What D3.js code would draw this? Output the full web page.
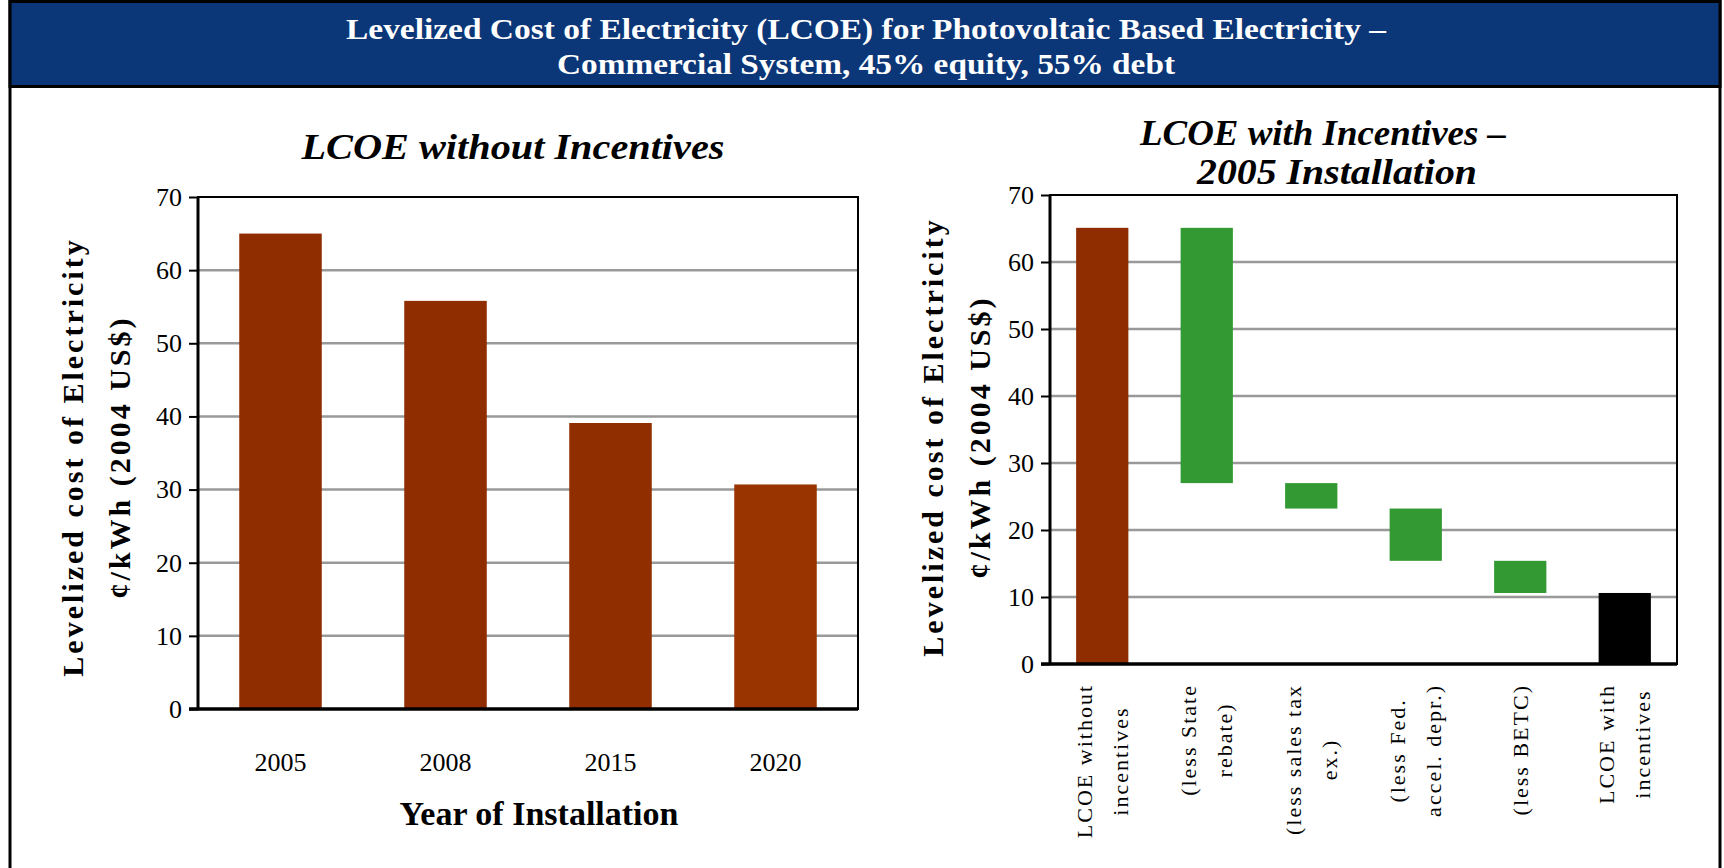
<!DOCTYPE html>
<html>
<head>
<meta charset="utf-8">
<script src="https://cdnjs.cloudflare.com/ajax/libs/d3/7.8.5/d3.min.js"></script>
<style>
  html, body { margin: 0; padding: 0; background: #fff; }
  svg { display: block; }
  text { font-family: "Liberation Serif", "Times New Roman", serif; }
</style>
</head>
<body>
<svg id="chart" width="1724" height="868"></svg>
<script>
// left chart: LCOE without incentives
var years = ["2005", "2008", "2015", "2020"];
var lcoeValues = [65.0, 55.8, 39.1, 30.7];

// right chart: waterfall, 2005 installation
var steps = ["LCOE without incentives", "(less State rebate)", "(less sales tax ex.)",
             "(less Fed. accel. depr.)", "(less BETC)", "LCOE with incentives"];
var stepLines = [["LCOE without", "incentives"], ["(less State", "rebate)"], ["(less sales tax", "ex.)"],
                 ["(less Fed.", "accel. depr.)"], ["(less BETC)"], ["LCOE with", "incentives"]];
var stepTop = [65.1, 65.1, 27.0, 23.2, 15.4, 10.6];
var stepBottom = [0, 27.0, 23.2, 15.4, 10.6, 0];
var stepKind = ["total", "less", "less", "less", "less", "result"];

var yTicks = [0, 10, 20, 30, 40, 50, 60, 70];

var colors = { total: "#8f2d00", less: "#339933", result: "#000000" };
var yearColors = ["#8f2d00", "#8f2d00", "#912e00", "#993300"];

var svg = d3.select("#chart");

// frame and banner
svg.append("rect")
  .attr("x", 10).attr("y", 1.5)
  .attr("width", 1710).attr("height", 880)
  .attr("fill", "#fff").attr("stroke", "#000").attr("stroke-width", 3);

svg.append("rect")
  .attr("x", 10).attr("y", 1.5)
  .attr("width", 1710).attr("height", 85)
  .attr("fill", "#0b3677").attr("stroke", "#000").attr("stroke-width", 3);

var title = svg.append("text")
  .attr("text-anchor", "middle")
  .attr("fill", "#fff")
  .style("font-size", "29px")
  .style("font-weight", "bold");
title.append("tspan").attr("x", 866).attr("y", 39)
  .attr("textLength", 1040).attr("lengthAdjust", "spacingAndGlyphs")
  .text("Levelized Cost of Electricity (LCOE) for Photovoltaic Based Electricity –");
title.append("tspan").attr("x", 866).attr("y", 74)
  .attr("textLength", 618).attr("lengthAdjust", "spacingAndGlyphs")
  .text("Commercial System, 45% equity, 55% debt");

function drawFrame(g, x, y, x0, x1) {
  // gridlines
  g.append("g").selectAll("line")
    .data(yTicks.filter(function(d) { return d > 0 && d < 70; }))
    .enter().append("line")
    .attr("x1", x0).attr("x2", x1)
    .attr("y1", function(d) { return y(d); })
    .attr("y2", function(d) { return y(d); })
    .attr("stroke", "#999").attr("stroke-width", 2.5);
}

function drawAxis(g, y, x0, x1) {
  var axis = d3.axisLeft(y).tickValues(yTicks).tickSize(9).tickPadding(7);
  var ag = g.append("g")
    .attr("transform", "translate(" + x0 + ",0)")
    .call(axis);
  ag.select(".domain").remove();
  ag.selectAll(".tick line").attr("stroke", "#000").attr("stroke-width", 2);
  ag.selectAll(".tick text")
    .attr("fill", "#000")
    .style("font-family", "'Liberation Serif', serif")
    .style("font-size", "26px");

  // plot box
  g.append("rect")
    .attr("x", x0).attr("y", y(70))
    .attr("width", x1 - x0).attr("height", y(0) - y(70))
    .attr("fill", "none").attr("stroke", "#000").attr("stroke-width", 2);
  g.append("line")
    .attr("x1", x0).attr("x2", x0).attr("y1", y(70)).attr("y2", y(0))
    .attr("stroke", "#000").attr("stroke-width", 3);
  g.append("line")
    .attr("x1", x0 - 9).attr("x2", x1).attr("y1", y(0)).attr("y2", y(0))
    .attr("stroke", "#000").attr("stroke-width", 3.5);
}

function yTitle(g, xs, cy) {
  var lines = ["Levelized cost of Electricity", "¢/kWh (2004 US$)"];
  lines.forEach(function(t, i) {
    g.append("text")
      .attr("transform", "translate(" + xs[i] + "," + cy + ") rotate(-90)")
      .attr("text-anchor", "middle")
      .attr("dy", "0.35em")
      .style("font-size", "30px")
      .style("font-weight", "bold")
      .style("letter-spacing", "3px")
      .text(t);
  });
}

// ---------- left chart ----------
var left = svg.append("g");
var xL = d3.scaleBand().domain(years).range([198, 858]).paddingInner(0.5).paddingOuter(0.25);
var yL = d3.scaleLinear().domain([0, 70]).range([709, 197]);

drawFrame(left, xL, yL, 198, 858);

left.selectAll(".bar")
  .data(years)
  .enter().append("rect")
  .attr("class", "bar")
  .attr("x", function(d) { return xL(d); })
  .attr("width", xL.bandwidth())
  .attr("y", function(d, i) { return yL(lcoeValues[i]); })
  .attr("height", function(d, i) { return yL(0) - yL(lcoeValues[i]); })
  .attr("fill", function(d, i) { return yearColors[i]; });

drawAxis(left, yL, 198, 858);

var xAxisL = left.append("g")
  .attr("transform", "translate(0," + yL(0) + ")")
  .call(d3.axisBottom(xL).tickSize(0).tickPadding(44));
xAxisL.select(".domain").remove();
xAxisL.selectAll(".tick text")
  .attr("fill", "#000")
  .style("font-family", "'Liberation Serif', serif")
  .style("font-size", "26px");

left.append("text")
  .attr("x", 513).attr("y", 159)
  .attr("text-anchor", "middle")
  .attr("textLength", 423).attr("lengthAdjust", "spacingAndGlyphs")
  .style("font-size", "35px")
  .style("font-weight", "bold")
  .style("font-style", "italic")
  .text("LCOE without Incentives");

left.append("text")
  .attr("x", 539).attr("y", 825)
  .attr("text-anchor", "middle")
  .style("font-size", "34px")
  .style("font-weight", "bold")
  .text("Year of Installation");

yTitle(left, [72, 119], 457);

// ---------- right chart ----------
var right = svg.append("g");
var xR = d3.scaleBand().domain(steps).range([1050, 1677]).paddingInner(0.5).paddingOuter(0.25);
var yR = d3.scaleLinear().domain([0, 70]).range([664, 195]);

drawFrame(right, xR, yR, 1050, 1677);

right.selectAll(".step")
  .data(steps)
  .enter().append("rect")
  .attr("class", "step")
  .attr("x", function(d) { return xR(d); })
  .attr("width", xR.bandwidth())
  .attr("y", function(d, i) { return yR(stepTop[i]); })
  .attr("height", function(d, i) { return yR(stepBottom[i]) - yR(stepTop[i]); })
  .attr("fill", function(d, i) { return colors[stepKind[i]]; });

drawAxis(right, yR, 1050, 1677);

// rotated category labels, lines centred on each other, block starts below the axis
steps.forEach(function(s, i) {
  var cx = xR(s) + xR.bandwidth() / 2;
  var g = right.append("g")
    .attr("transform", "translate(" + cx + "," + (yR(0) + 20) + ") rotate(-90)");
  var lines = stepLines[i];
  var texts = lines.map(function(t, j) {
    return g.append("text")
      .attr("y", (j - (lines.length - 1) / 2) * 36)
      .attr("dy", "0.35em")
      .attr("text-anchor", "middle")
      .style("font-size", "22px")
      .style("letter-spacing", "2px")
      .text(t);
  });
  var maxW = d3.max(texts, function(t) { return t.node().getComputedTextLength(); });
  texts.forEach(function(t) { t.attr("x", -maxW / 2); });
});

var rt = right.append("text")
  .attr("text-anchor", "middle")
  .style("font-size", "35px")
  .style("font-weight", "bold")
  .style("font-style", "italic");
rt.append("tspan").attr("x", 1323).attr("y", 145)
  .attr("textLength", 366).attr("lengthAdjust", "spacingAndGlyphs")
  .text("LCOE with Incentives –");
rt.append("tspan").attr("x", 1337).attr("y", 184)
  .attr("textLength", 280).attr("lengthAdjust", "spacingAndGlyphs")
  .text("2005 Installation");

yTitle(right, [932, 979], 437);
</script>
</body>
</html>
